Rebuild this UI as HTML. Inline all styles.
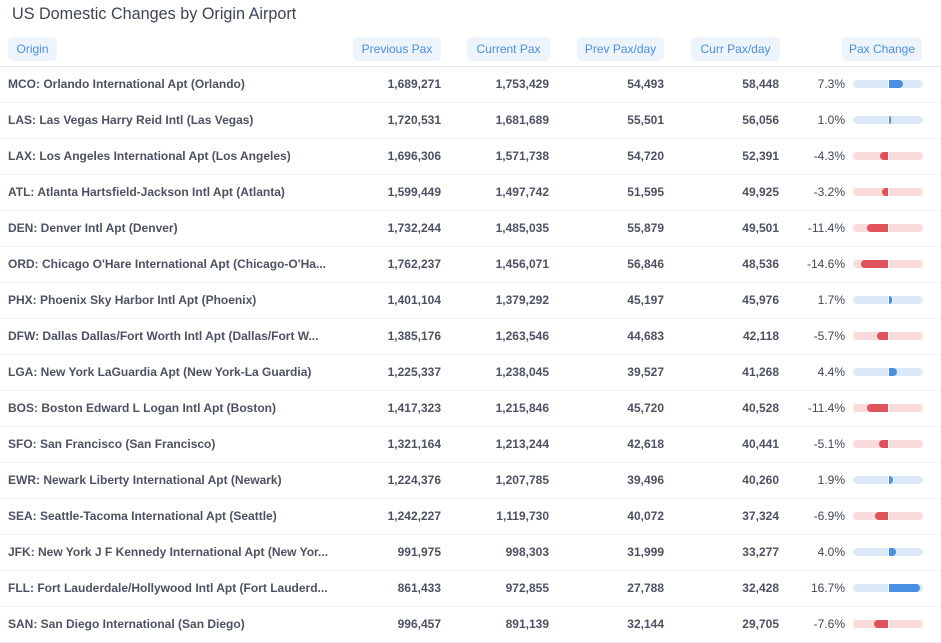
<!DOCTYPE html><html><head><style>
body{margin:0;width:941px;height:635px;overflow:hidden;background:#fff;font-family:"Liberation Sans",sans-serif;color:#4c5263}
.t{position:absolute;left:12px;top:5px;font-size:16.2px;color:#3f4558}
.p{position:absolute;top:37px;height:24px;line-height:24px;background:#eef4fc;color:#4a90e2;font-size:12px;border-radius:5px;text-align:center}
.hl{position:absolute;left:0;width:941px;top:66px;height:1px;background:#e6e8ec}
.r{position:absolute;left:0;width:941px;height:36px;border-bottom:1px solid #f0f1f3;font-size:12px;font-weight:bold}
.r span{position:absolute;top:0;line-height:36px}
.n{text-align:right}
.bar{position:absolute;left:853px;top:14px;width:70px;height:8px;border-radius:4px}
.f{position:absolute;top:0;height:8px}
.c{position:absolute;left:35px;top:0;width:1px;height:8px;background:#fff}
</style></head><body>
<div class="t">US Domestic Changes by Origin Airport</div>
<div class="p" style="left:8px;width:49px">Origin</div>
<div class="p" style="left:353px;width:88px">Previous Pax</div>
<div class="p" style="left:467px;width:83px">Current Pax</div>
<div class="p" style="left:577px;width:87px">Prev Pax/day</div>
<div class="p" style="left:691px;width:89px">Curr Pax/day</div>
<div class="p" style="left:842px;width:80px">Pax Change</div>
<div class="hl"></div>
<div id="rows"></div>
<script>
const d=[["MCO: Orlando International Apt (Orlando)","1,689,271","1,753,429","54,493","58,448",7.3],
["LAS: Las Vegas Harry Reid Intl (Las Vegas)","1,720,531","1,681,689","55,501","56,056",1.0],
["LAX: Los Angeles International Apt (Los Angeles)","1,696,306","1,571,738","54,720","52,391",-4.3],
["ATL: Atlanta Hartsfield-Jackson Intl Apt (Atlanta)","1,599,449","1,497,742","51,595","49,925",-3.2],
["DEN: Denver Intl Apt (Denver)","1,732,244","1,485,035","55,879","49,501",-11.4],
["ORD: Chicago O'Hare International Apt (Chicago-O'Ha...","1,762,237","1,456,071","56,846","48,536",-14.6],
["PHX: Phoenix Sky Harbor Intl Apt (Phoenix)","1,401,104","1,379,292","45,197","45,976",1.7],
["DFW: Dallas Dallas/Fort Worth Intl Apt (Dallas/Fort W...","1,385,176","1,263,546","44,683","42,118",-5.7],
["LGA: New York LaGuardia Apt (New York-La Guardia)","1,225,337","1,238,045","39,527","41,268",4.4],
["BOS: Boston Edward L Logan Intl Apt (Boston)","1,417,323","1,215,846","45,720","40,528",-11.4],
["SFO: San Francisco (San Francisco)","1,321,164","1,213,244","42,618","40,441",-5.1],
["EWR: Newark Liberty International Apt (Newark)","1,224,376","1,207,785","39,496","40,260",1.9],
["SEA: Seattle-Tacoma International Apt (Seattle)","1,242,227","1,119,730","40,072","37,324",-6.9],
["JFK: New York J F Kennedy International Apt (New Yor...","991,975","998,303","31,999","33,277",4.0],
["FLL: Fort Lauderdale/Hollywood Intl Apt (Fort Lauderd...","861,433","972,855","27,788","32,428",16.7],
["SAN: San Diego International (San Diego)","996,457","891,139","32,144","29,705",-7.6]];
let h="";d.forEach((r,i)=>{const top=66+i*36;const v=r[5];const w=Math.max(2,Math.min(34,Math.abs(v)*1.85));
const pos=v>=0;const bg=pos?"#dbe9f8":"#f9dadd";const fc=pos?"#4a90e2":"#e0525a";
const f=pos?`left:36px;width:${w}px;border-radius:0 4px 4px 0`:`left:${35-w}px;width:${w}px;border-radius:4px 0 0 4px`;
h+=`<div class="r" style="top:${top}px"><span style="left:8px">${r[0]}</span>
<span class="n" style="right:${941-441}px">${r[1]}</span><span class="n" style="right:${941-549}px">${r[2]}</span>
<span class="n" style="right:${941-664}px">${r[3]}</span><span class="n" style="right:${941-779}px">${r[4]}</span>
<span class="n" style="right:${941-845}px;font-weight:normal;color:#3f4558">${v.toFixed(1)}%</span>
<div class="bar" style="background:${bg}"><div class="f" style="${f};background:${fc}"></div><div class="c"></div></div></div>`;});
document.getElementById("rows").innerHTML=h;
</script></body></html>
